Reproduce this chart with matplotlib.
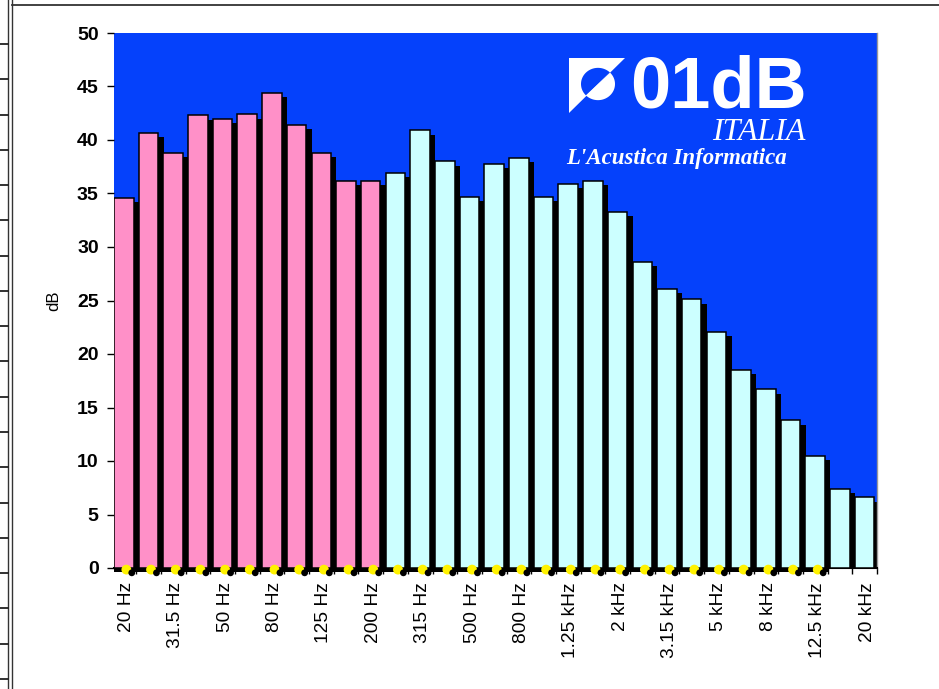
import matplotlib
matplotlib.use('Agg')
import matplotlib.pyplot as plt
from matplotlib.patches import Rectangle, Polygon
from matplotlib.transforms import blended_transform_factory
import numpy as np

# ---------------- data ----------------
bands = ['20 Hz', '25 Hz', '31.5 Hz', '40 Hz', '50 Hz', '63 Hz', '80 Hz', '100 Hz',
         '125 Hz', '160 Hz', '200 Hz', '250 Hz', '315 Hz', '400 Hz', '500 Hz',
         '630 Hz', '800 Hz', '1 kHz', '1.25 kHz', '1.6 kHz', '2 kHz', '2.5 kHz',
         '3.15 kHz', '4 kHz', '5 kHz', '6.3 kHz', '8 kHz', '10 kHz', '12.5 kHz',
         '16 kHz', '20 kHz']
levels = [34.6, 40.7, 38.8, 42.3, 42.0, 42.4, 44.4, 41.4, 38.8, 36.2, 36.2,
          36.9, 40.9, 38.0, 34.7, 37.8, 38.3, 34.7, 35.9, 36.2, 33.3, 28.6,
          26.1, 25.1, 22.1, 18.5, 16.7, 13.8, 10.5, 7.4, 6.6]
n_low = 11          # bands 20 Hz .. 200 Hz drawn in pink
yticks = list(range(0, 51, 5))

# ---------------- style ----------------
W, H = 939, 689
BLUE = '#0541fb'
PINK = '#ff90c8'
CYAN = '#ccffff'
FONT = 'Liberation Sans'

fig = plt.figure(figsize=(W / 100, H / 100), dpi=100)
fig.patch.set_facecolor('white')

L, R, T, B = 114, 877, 33, 568
ax = fig.add_axes([L / W, 1 - B / H, (R - L) / W, (B - T) / H])
ax.set_facecolor(BLUE)

n = len(levels)
x = np.arange(n)
bw = 0.79
colors = [PINK if i < n_low else CYAN for i in range(n)]

# shadows
ax.bar(x + 0.22, np.array(levels), bottom=-0.4, width=bw, align='edge',
       color='black', edgecolor='black', linewidth=0, zorder=2)
# bars
ax.bar(x, levels, width=bw, align='edge', color=colors, edgecolor='black',
       linewidth=1.1, zorder=3)

ax.set_xlim(0, 30.87)
ax.set_ylim(0, 50)

# baseline shadow band and small artefacts under the axis
trans = blended_transform_factory(ax.transData, ax.transAxes)
ax.add_patch(Rectangle((0.0, -0.007), 28.95, 0.007, transform=trans,
                       facecolor='black', edgecolor='none', clip_on=False, zorder=4))
ax.scatter(x[:29] + 0.5, np.full(29, -0.003), transform=trans, s=50, marker='o',
           color='#fff200', edgecolor='none', clip_on=False, zorder=4.2)
ax.scatter(x[:29] + 0.72, np.full(29, -0.009), transform=trans, s=24, marker='o',
           color='black', edgecolor='none', clip_on=False, zorder=4.5)

# y axis
ax.set_yticks(yticks)
ax.set_yticklabels([str(v) for v in yticks], fontfamily=FONT, fontweight='bold',
                   fontsize=14)
ax.tick_params(axis='y', direction='out', length=5, width=1, color='black', pad=6)
ax.set_ylabel('dB', fontfamily=FONT, fontsize=12)
ax.yaxis.set_label_coords(-0.069, 0.5)

# x axis
ax.set_xticks(x[::2] + 0.5)
ax.set_xticklabels(bands[::2], rotation=90, fontfamily=FONT, fontsize=13.8,
                   va='top', ha='center')
ax.set_xticks(x + 0.9, minor=True)
ax.tick_params(axis='x', which='major', length=0, pad=10)
ax.tick_params(axis='x', which='minor', direction='out', length=4, width=1,
               color='black')

for s in ['left', 'top']:
    ax.spines[s].set_visible(False)
ax.spines['right'].set_color('#9a9a9a')
ax.spines['right'].set_linewidth(1)
ax.spines['bottom'].set_color('black')
ax.spines['bottom'].set_linewidth(1.5)

# ---------------- overlay (frame + logo) ----------------
ov = fig.add_axes([0, 0, 1, 1], zorder=10)
ov.set_xlim(0, W)
ov.set_ylim(H, 0)
ov.axis('off')
ov.patch.set_alpha(0)

# worksheet-like outer frame
ov.plot([8, 8], [0, H], color='#333333', lw=1)
ov.plot([11.5, 11.5], [0, H], color='#333333', lw=1)
ov.plot([11.5, W], [5, 5], color='#333333', lw=1.3)
for k in range(19):
    yy = 44 + k * 35.27
    if yy < H:
        ov.plot([0, 8], [yy, yy], color='#222222', lw=1.3)

# logo square
x0, y0, x1, y1 = 569, 58, 625, 113
ov.add_patch(Rectangle((x0, y0), x1 - x0, y1 - y0, facecolor='white',
                       edgecolor='none'))
ov.add_patch(Polygon([(x0, y1), (x1, y0), (x1, y1)], closed=True,
                     facecolor=BLUE, edgecolor='none'))
cx, cy, r = 598, 84, 17
t1 = np.linspace(np.pi / 4, np.pi * 5 / 4, 60)
t2 = np.linspace(np.pi * 5 / 4, np.pi * 9 / 4, 60)
ov.add_patch(Polygon(np.c_[cx + r * np.cos(t1), cy - r * 0.95 * np.sin(t1)],
                     closed=True, facecolor=BLUE, edgecolor='none'))
ov.add_patch(Polygon(np.c_[cx + r * np.cos(t2), cy - r * 0.95 * np.sin(t2)],
                     closed=True, facecolor='white', edgecolor='none'))

ov.text(630, 108, '01dB', color='white', fontfamily=FONT, fontweight='bold',
        fontsize=52, ha='left', va='baseline')
ov.text(805, 140, 'ITALIA', color='white', fontfamily='Liberation Serif',
        fontstyle='italic', fontsize=23, ha='right', va='baseline')
ov.text(566, 164, "L'Acustica Informatica", color='white',
        fontfamily='Liberation Serif', fontstyle='italic', fontweight='bold',
        fontsize=16.5, ha='left', va='baseline')

fig.savefig('out.png', dpi=100)
